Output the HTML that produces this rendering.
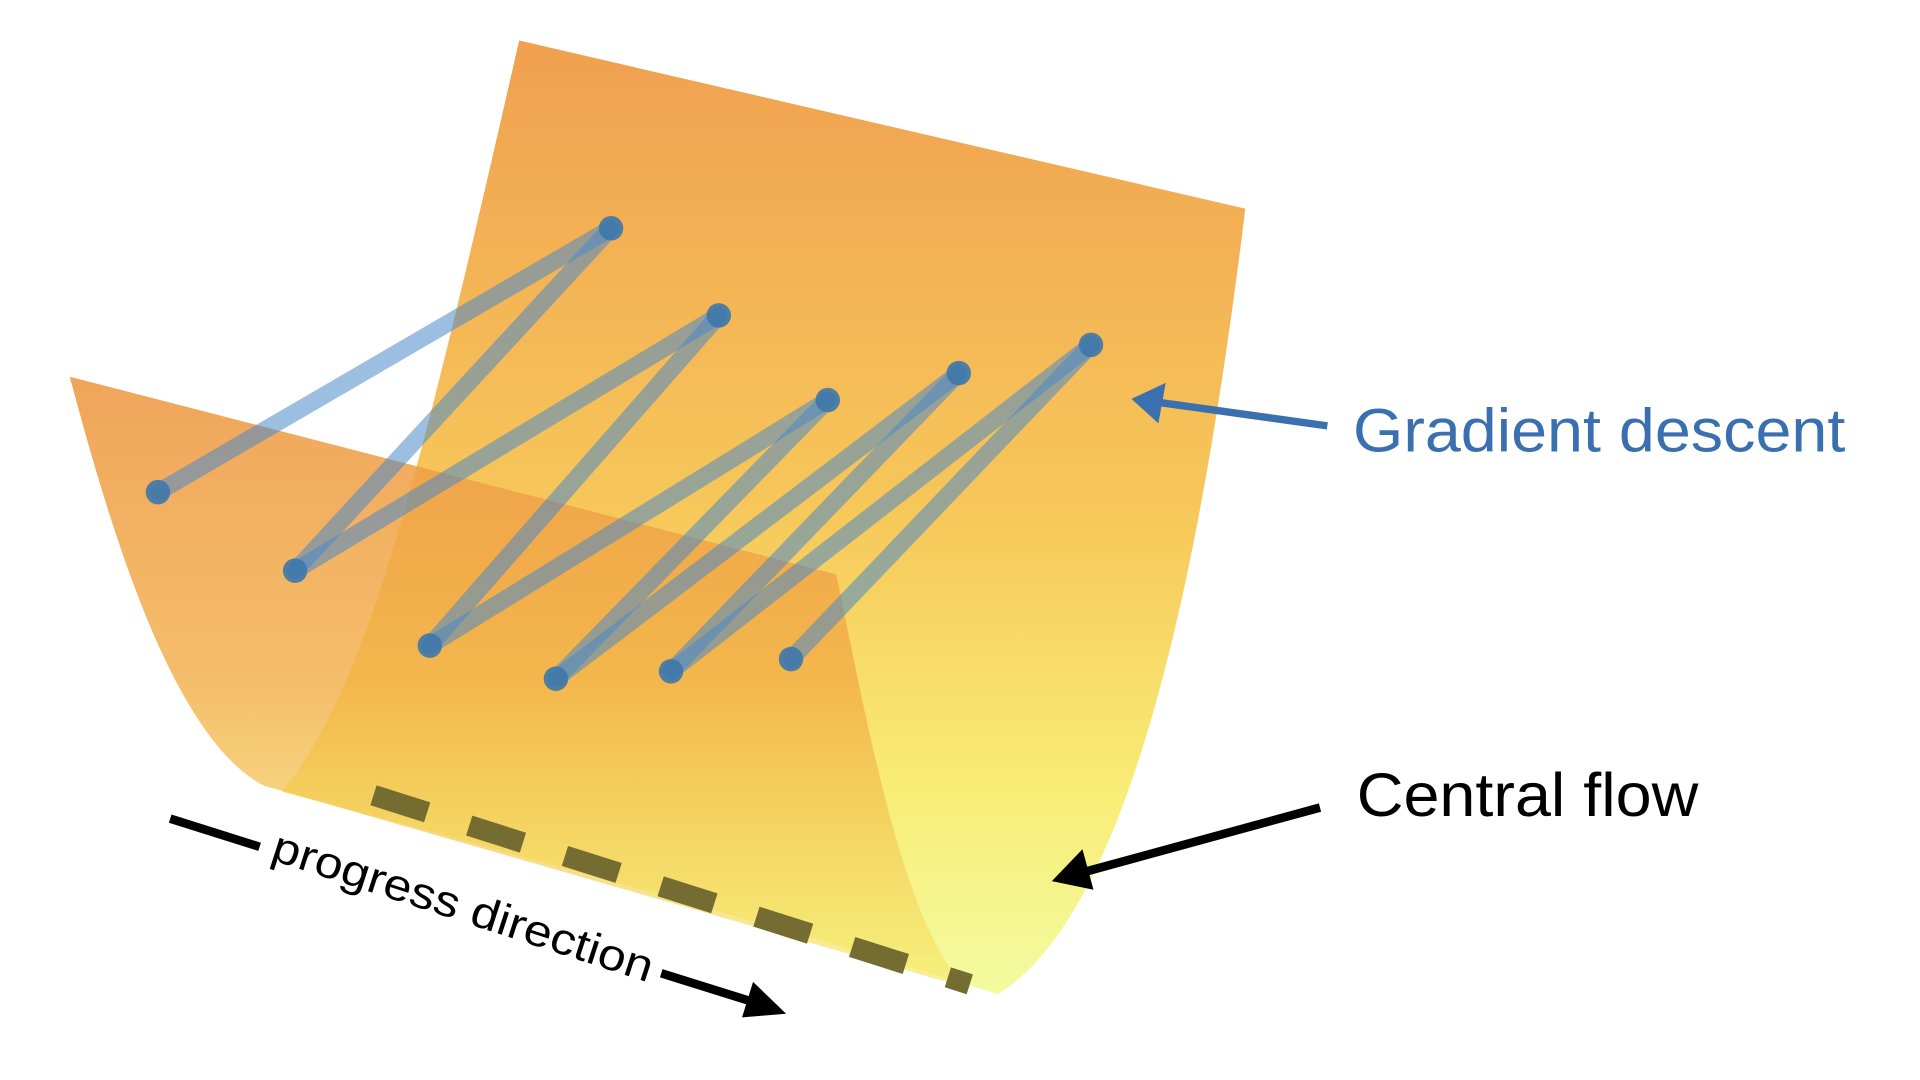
<!DOCTYPE html>
<html><head><meta charset="utf-8"><style>
html,body{margin:0;padding:0;background:#fff;width:1920px;height:1080px;overflow:hidden}
svg{display:block}
text{font-family:"Liberation Sans",sans-serif}
</style></head><body>
<svg id="chart" width="1920" height="1080" viewBox="0 0 1568 880" preserveAspectRatio="none">
<defs>
<linearGradient id="gBack" x1="0" y1="0" x2="0" y2="1">
<stop offset="0" stop-color="#f0a050"/><stop offset="0.5" stop-color="#f7c85a"/><stop offset="0.8" stop-color="#f8ee78"/><stop offset="1" stop-color="#f2fba0"/></linearGradient>
<linearGradient id="gFront" x1="0" y1="0" x2="0" y2="1">
<stop offset="0" stop-color="#ee9a48" stop-opacity="0.9"/><stop offset="0.5" stop-color="#f2ad45" stop-opacity="0.8"/><stop offset="1" stop-color="#f6ec70" stop-opacity="0.7"/></linearGradient>
</defs>
<path d="M424,33 L1017,170 C985,430 930,740 815,810 C620,750 400,690 230,645 C300,560 340,400 424,33 Z" fill="url(#gBack)"/>
<path d="M57,307 L683,468 C710,600 740,760 790,805 L215,640 C140,600 90,430 57,307 Z" fill="url(#gFront)"/>
<line x1="305" y1="648" x2="792" y2="802" stroke="#746c30" stroke-width="17" stroke-dasharray="46,36"/>
<g id="gd"></g>
<line x1="1084" y1="347" x2="940" y2="327" stroke="#3a70b0" stroke-width="6"/>
<polygon points="924,325 952,312 946,345" fill="#3a70b0"/>
<text x="1105" y="368" font-size="50" fill="#3a70b0" textLength="402" lengthAdjust="spacingAndGlyphs">Gradient descent</text>
<line x1="1078" y1="658" x2="880" y2="712" stroke="#000" stroke-width="7"/>
<polygon points="859,718 884,692 893,725" fill="#000"/>
<text x="1108" y="665" font-size="50" fill="#000" textLength="279" lengthAdjust="spacingAndGlyphs">Central flow</text>
<line x1="139" y1="667" x2="212" y2="690" stroke="#000" stroke-width="7"/>
<text transform="translate(220,700) rotate(18)" font-size="36" fill="#000" textLength="325" lengthAdjust="spacingAndGlyphs">progress direction</text>
<line x1="540" y1="793" x2="620" y2="818" stroke="#000" stroke-width="7"/>
<polygon points="642,826 606,829 615,800" fill="#000"/>
</svg>
<script>
const stepX = [129,499,241,587,351,676,454,783,548,891,646];
const stepY = [401,186,465,257,526,326,553,304,547,281,537];
const ns="http://www.w3.org/2000/svg";
const g=document.getElementById('gd');
for(let i=0;i<stepX.length-1;i++){
  const l=document.createElementNS(ns,'line');
  l.setAttribute('x1',stepX[i]);l.setAttribute('y1',stepY[i]);
  l.setAttribute('x2',stepX[i+1]);l.setAttribute('y2',stepY[i+1]);
  l.setAttribute('stroke','#4a88c8');l.setAttribute('stroke-opacity','0.55');
  l.setAttribute('stroke-width','14');l.setAttribute('stroke-linecap','round');
  
  
  g.appendChild(l);
}
for(let i=0;i<stepX.length;i++){
  const c=document.createElementNS(ns,'circle');
  c.setAttribute('cx',stepX[i]);c.setAttribute('cy',stepY[i]);c.setAttribute('r','10');
  c.setAttribute('fill','#3f78aa');c.setAttribute('fill-opacity','0.9');
  
  
  g.appendChild(c);
}
</script>
</body></html>
